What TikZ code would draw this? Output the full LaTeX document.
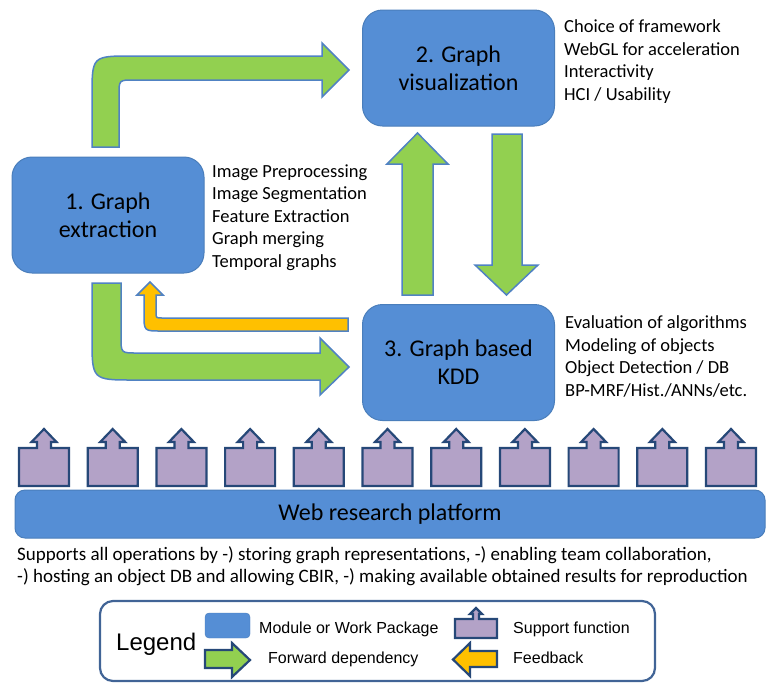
\documentclass[tikz,border=0pt]{standalone}
\usepackage{fontspec}
\setmainfont{Carlito}
\newfontfamily\legendfont{Liberation Sans}
\usetikzlibrary{positioning}
\definecolor{boxblue}{RGB}{85,142,213}
\definecolor{boxline}{RGB}{74,126,187}
\definecolor{arrowline}{RGB}{80,130,195}
\definecolor{fwdgreen}{RGB}{146,208,80}
\definecolor{fbyellow}{RGB}{255,192,0}
\definecolor{suppurple}{RGB}{179,162,199}
\definecolor{navy}{RGB}{38,72,120}
\definecolor{framecol}{RGB}{65,100,150}

\begin{document}
\begin{tikzpicture}[x=1pt,y=-1pt,
	module/.style={draw=boxline, fill=boxblue, line width=1pt, rounded corners=20pt,
		minimum width=192pt, minimum height=116pt, align=center, font=\fontsize{24}{28}\selectfont},
	desc/.style={anchor=north west, align=left, inner sep=0pt, font=\fontsize{18.5}{22.5}\selectfont},
	fwd/.style={draw=arrowline, fill=fwdgreen, line width=1.5pt},
	fback/.style={draw=arrowline, fill=fbyellow, line width=1.5pt},
	support/.style={draw=navy, fill=suppurple, line width=2.2pt, line join=miter},
	legarrow/.style={draw=navy, line width=2.2pt},
	legtext/.style={anchor=base west, inner sep=0pt, font=\legendfont\fontsize{16}{19}\selectfont}]
	\useasboundingbox (0,0) rectangle (775,694);

	% work packages
	\node[module] (box1) at (108,215)   {1. Graph\\extraction};
	\node[module] (box2) at (458.5,68)  {2. Graph\\visualization};
	\node[module] (box3) at (458.5,362.5) {3. Graph based\\KDD};

	\node[desc] (desc1) at (212,164.2) {Image Preprocessing\\Image Segmentation\\Feature Extraction\\Graph merging\\Temporal graphs};
	\node[desc] (desc2) at (564,19.5) {Choice of framework\\WebGL for acceleration\\Interactivity\\HCI / Usability};
	\node[desc] (desc3) at (565,315.5) {Evaluation of algorithms\\Modeling of objects\\Object Detection  / DB\\BP-MRF/Hist./ANNs/etc.};

	% forward dependencies
	\draw[fwd] (92,147) -- (92,96) .. controls (92,56) .. (132,56) -- (322,56) -- (322,43) -- (349,70)
		-- (322,97) -- (322,80) -- (134,80) .. controls (119,80) .. (119,95) -- (119,147) -- cycle;
	\draw[fwd] (92,283) -- (92,338) .. controls (92,380) .. (134,380) -- (320,380) -- (320,395) -- (349,367)
		-- (320,338) -- (320,353) -- (137,353) .. controls (121,353) .. (121,337) -- (121,283) -- cycle;
	\draw[fwd] (402,295) -- (402,164) -- (387,164) -- (417.5,133) -- (448,164) -- (433,164) -- (433,295) -- cycle;
	\draw[fwd] (492,134) -- (522,134) -- (522,265) -- (538,265) -- (506.5,295) -- (475,265) -- (492,265) -- cycle;

	% feedback
	\draw[fback] (348,318) -- (348,331) -- (161,331) .. controls (144,331) .. (144,314) -- (144,295) -- (137,295)
		-- (150,282) -- (163,295) -- (156,295) -- (156,312) .. controls (156,318) .. (162,318) -- cycle;

	% support functions
	\foreach \i in {0,...,10}
		\draw[support, xshift=\i*68.7pt] (19,486) -- (19,448) -- (37,448) -- (37,442) -- (31.5,442) -- (44,429)
			-- (56.5,442) -- (51,442) -- (51,448) -- (69,448) -- (69,486) -- cycle;

	\node[draw=boxline, fill=boxblue, line width=1pt, rounded corners=10pt, minimum width=750pt,
		minimum height=48pt, font=\fontsize{24}{28}\selectfont] (platform) at (390,514) {Web research platform};
	\node[desc, font=\fontsize{19}{21.5}\selectfont] (note) at (17,546.4) {Supports all operations by -) storing graph representations, -) enabling team collaboration,\\-) hosting an object DB and allowing CBIR, -) making available obtained results for reproduction};

	% legend
	\node[draw=framecol, line width=2.2pt, rounded corners=13pt, minimum width=555pt, minimum height=80pt] (legend) at (377.5,641) {};
	\node[anchor=base west, inner sep=0pt, font=\legendfont\fontsize{24}{28}\selectfont] (legtitle) at (116,650) {Legend};
	\node[fill=boxblue, draw=boxline, rounded corners=4pt, minimum width=45pt, minimum height=25pt] (legmodule) at (227.5,625.5) {};
	\draw[legarrow, fill=fwdgreen] (205,650) -- (232,650) -- (232,643) -- (250,660) -- (232,677) -- (232,668) -- (205,668) -- cycle;
	\draw[legarrow, fill=suppurple] (455,638) -- (455,619) -- (473,619) -- (473,614) -- (470,614) -- (476,608)
		-- (482,614) -- (479,614) -- (479,619) -- (497,619) -- (497,638) -- cycle;
	\draw[legarrow, fill=fbyellow] (497,651) -- (470,651) -- (470,643) -- (453,659.5) -- (470,676) -- (470,667) -- (497,667) -- cycle;
	\node[legtext] (legmod) at (259,633) {Module or Work Package};
	\node[legtext] (legfwd) at (268,663) {Forward dependency};
	\node[legtext] (legsup) at (513,633) {Support function};
	\node[legtext] (legfb)  at (513,663) {Feedback};
\end{tikzpicture}
\end{document}
